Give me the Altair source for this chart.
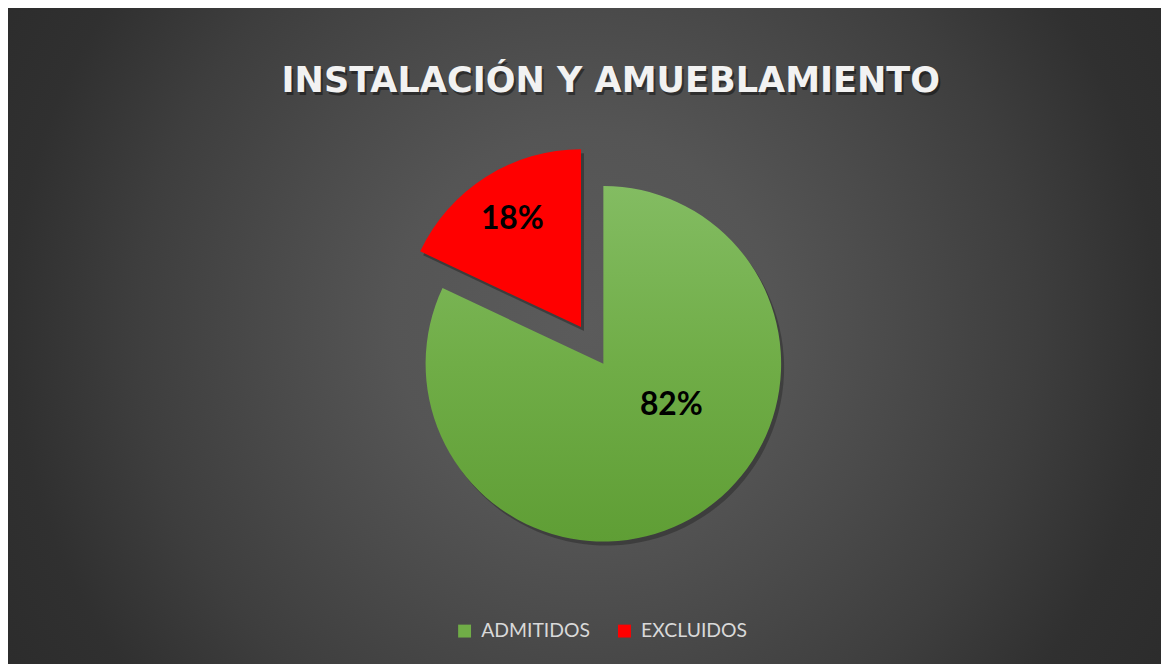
import altair as alt
import pandas as pd

TITLE = "INSTALACIÓN Y AMUEBLAMIENTO"
CATEGORIES = ["ADMITIDOS", "EXCLUIDOS"]
VALUES = [82, 18]
LABELS = ["82%", "18%"]
COLORS = ["#70ad47", "#ff0000"]

W, H = 1161, 656
CX, CY = 599.5, 356        # pie centre
RX, RY = 577, 319          # exploded slice centre
R = 179

pie = pd.DataFrame({"cat": CATEGORIES, "value": VALUES, "label": LABELS,
                    "ord": list(range(len(CATEGORIES)))})

bg_grad = {"gradient": "radial", "x1": 0.5, "y1": 0.49, "x2": 0.5, "y2": 0.49,
           "r1": 0, "r2": 0.72,
           "stops": [{"offset": 0, "color": "#5b5b5b"},
                     {"offset": 0.23, "color": "#555555"},
                     {"offset": 0.38, "color": "#4a4a4a"},
                     {"offset": 0.54, "color": "#3e3e3e"},
                     {"offset": 0.69, "color": "#303030"},
                     {"offset": 1, "color": "#262626"}]}
green_grad = {"gradient": "linear", "x1": 0, "y1": 0, "x2": 0, "y2": 1,
              "stops": [{"offset": 0, "color": "#83bc62"},
                        {"offset": 0.5, "color": "#70ad47"},
                        {"offset": 1, "color": "#5f9e35"}]}

bg = alt.Chart(pd.DataFrame({"k": [0]})).mark_rect(fill=bg_grad).encode(
    x=alt.value(0), x2=alt.value(W), y=alt.value(-136), y2=alt.value(H + 136))

theta = alt.Theta("value:Q", stack=True)
order = alt.Order("ord:Q")


def only(cat, on=1.0):
    return alt.when(alt.datum.cat == cat).then(alt.value(on)).otherwise(alt.value(0))


base = alt.Chart(pie)

shadow_g = base.mark_arc(outerRadius=R, x=CX + 3, y=CY + 4, fill="black").encode(
    theta=theta, order=order, opacity=only(CATEGORIES[0], 0.25))
shadow_r = base.mark_arc(outerRadius=R, x=RX + 3, y=RY + 4, fill="black").encode(
    theta=theta, order=order, opacity=only(CATEGORIES[1], 0.3))

green = base.mark_arc(outerRadius=R, x=CX, y=CY, fill=green_grad).encode(
    theta=theta, order=order, opacity=only(CATEGORIES[0]))

red = base.mark_arc(outerRadius=R, x=RX, y=RY).encode(
    theta=theta, order=order,
    color=alt.Color("cat:N", scale=alt.Scale(domain=CATEGORIES, range=COLORS),
                    legend=alt.Legend(title=None, orient="none", legendX=450, legendY=615,
                                      direction="horizontal", symbolType="square",
                                      symbolSize=169, symbolStrokeWidth=0,
                                      labelFont="Lato", labelFontSize=19.5,
                                      labelColor="#d9d9d9", labelOffset=7,
                                      columnPadding=24, labelLimit=300)),
    opacity=only(CATEGORIES[1]))

lab_g = base.mark_text(radius=80, x=CX, y=CY, dx=25.6, dy=-26, font="Lato",
                       fontWeight="bold", fontSize=32, color="black",
                       baseline="middle").encode(
    theta=theta, order=order, text="label:N", opacity=only(CATEGORIES[0]))
lab_r = base.mark_text(radius=129, x=RX, y=RY, font="Lato",
                       fontWeight="bold", fontSize=32, color="black",
                       baseline="middle").encode(
    theta=theta, order=order, text="label:N", opacity=only(CATEGORIES[1]))

tdata = alt.Chart(pd.DataFrame({"t": [TITLE]}))
title_shadow = tdata.mark_text(x=609, y=85, align="center", baseline="alphabetic",
                               font="DejaVu Sans", fontWeight="bold", fontSize=35.3,
                               color="black", opacity=0.4).encode(text="t:N")
title = tdata.mark_text(x=607, y=82, align="center", baseline="alphabetic",
                        font="DejaVu Sans", fontWeight="bold", fontSize=35.3,
                        color="#f2f2f2").encode(text="t:N")

chart = alt.layer(bg, shadow_g, shadow_r, green, red, lab_g, lab_r,
                  title_shadow, title).properties(
    width=W, height=H, padding=0,
    autosize=alt.AutoSizeParams(type="none"),
).configure_view(strokeWidth=0)

chart.save("out.html", embed_options={"renderer": "svg", "actions": False})
